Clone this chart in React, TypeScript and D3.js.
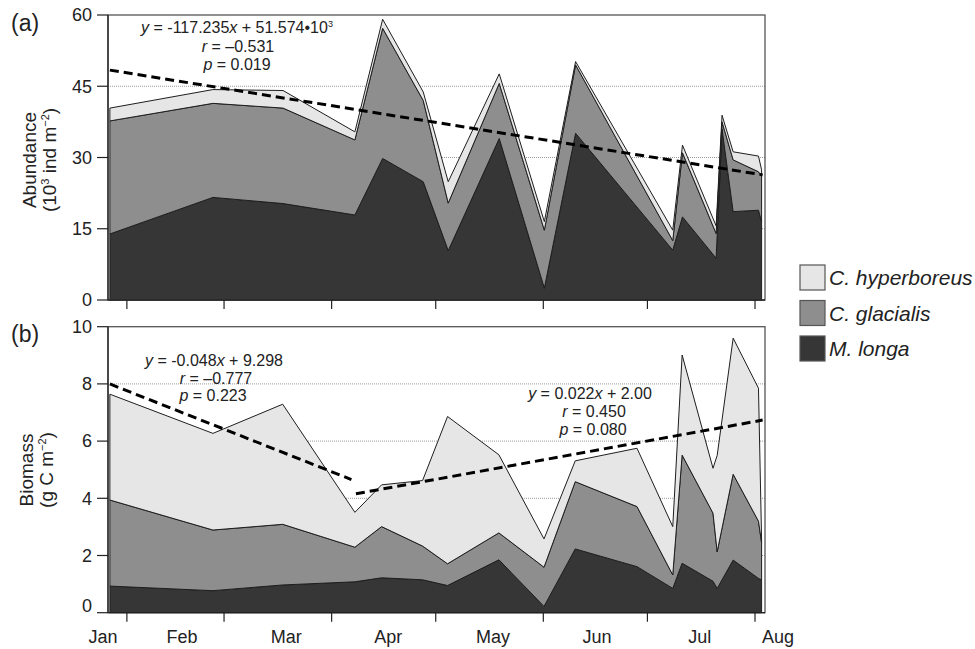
import * as d3 from "d3";

// day-of-year sampling dates and abundance (10^3 ind m-2) per species
const abDays = [27.1, 56.8, 77.0, 97.7, 105.7, 117.4, 124.6, 139.3, 152.3, 161.3, 189.3, 192.1, 201.8, 203.5, 206.7, 214.0, 214.9];
const abLonga = [13.9, 21.6, 20.3, 17.9, 29.8, 24.9, 10.4, 34.0, 2.5, 35.1, 10.5, 17.5, 8.8, 36.0, 18.6, 18.9, 16.5];
const abGlacialis = [23.8, 19.8, 20.1, 15.8, 27.4, 17.1, 10.0, 11.6, 12.2, 14.4, 2.0, 13.5, 5.2, 1.5, 10.9, 8.1, 9.5];
const abHyperboreus = [2.7, 2.9, 3.7, 1.7, 1.9, 1.8, 4.5, 2.0, 1.8, 0.7, 2.2, 1.6, 1.6, 1.4, 1.7, 3.3, 1.4];

// biomass (g C m-2)
const bmDays = [27.1, 56.8, 76.9, 97.7, 105.4, 117.2, 124.4, 139.2, 152.2, 161.2, 179.0, 189.3, 192.0, 200.9, 202.1, 206.7, 214.0, 214.9];
const bmLonga = [0.93, 0.77, 0.97, 1.08, 1.22, 1.15, 0.95, 1.85, 0.22, 2.23, 1.61, 0.85, 1.73, 1.10, 0.85, 1.84, 1.20, 1.15];
const bmGlacialis = [3.01, 2.12, 2.12, 1.21, 1.79, 1.18, 0.76, 0.94, 1.37, 2.35, 2.10, 0.47, 3.78, 2.38, 1.28, 3.00, 2.00, 1.30];
const bmHyperboreus = [3.70, 3.38, 4.20, 1.22, 1.46, 2.29, 5.15, 2.73, 0.99, 0.73, 2.04, 1.69, 3.50, 1.57, 3.37, 4.76, 4.65, 0.10];

// regression lines: [slope, intercept, fromDay, toDay]
const abFits = [[-0.117235, 51.574, 27.1, 215.2]];
const bmFits = [[-0.048, 9.298, 27.1, 96.7], [0.022, 2.0, 98.0, 215.2]];

const monthStarts = [32, 60, 91, 121, 152, 182, 213];
const monthNames = ["Jan", "Feb", "Mar", "Apr", "May", "Jun", "Jul", "Aug"];
const monthLabelDays = [25.1, 47.9, 77.9, 107.3, 137.5, 167.5, 197.1, 219.6];

const abTicks = [0, 15, 30, 45, 60];
const abGrid = [15, 30, 45];
const bmTicks = [0, 2, 4, 6, 8, 10];
const bmGrid = [2, 4, 6, 8];

const speciesKeys = ["longa", "glacialis", "hyperboreus"];
const speciesNames = ["C. hyperboreus", "C. glacialis", "M. longa"];
const fills: Record<string, string> = { longa: "#363636", glacialis: "#8e8e8e", hyperboreus: "#e6e6e6" };

const FONT = "'Liberation Sans', Arial, sans-serif";
const LEFT = 108;
const RIGHT = 765;

const x = d3.scaleLinear().domain([26.56, 215.88]).range([LEFT, RIGHT]);

function Panel({ days, longa, glacialis, hyperboreus, y, ticks, grid, fits, bottomTickShift }: any) {
  const rows = days.map((d: number, i: number) => ({ day: d, longa: longa[i], glacialis: glacialis[i], hyperboreus: hyperboreus[i] }));
  const series = d3.stack().keys(speciesKeys)(rows);
  const area = d3.area<any>().x((d) => x(d.data.day)).y0((d) => y(d[0])).y1((d) => y(d[1]));
  const [top, bottom] = [y.range()[1], y.range()[0]];
  return (
    <g>
      {grid.map((g: number) => (
        <line key={g} x1={LEFT} x2={RIGHT} y1={y(g)} y2={y(g)} stroke="#9a9a9a" strokeWidth={1} strokeDasharray="1,1" />
      ))}
      {series.map((s: any) => (
        <path key={s.key} d={area(s) || ""} fill={fills[s.key]} stroke="#1e1e1e" strokeWidth={1} strokeLinejoin="round" />
      ))}
      {fits.map((f: number[], i: number) => {
        const line = d3.line<number>().x((d) => x(d)).y((d) => y(f[0] * d + f[1]));
        return <path key={i} d={line([f[2], f[3]]) || ""} fill="none" stroke="#000" strokeWidth={3} strokeDasharray="9,5" />;
      })}
      <rect x={LEFT} y={top} width={RIGHT - LEFT} height={bottom - top} fill="none" stroke="#555" strokeWidth={1.3} />
      <line x1={LEFT} x2={LEFT} y1={top} y2={bottom} stroke="#222" strokeWidth={1.3} />
      <line x1={LEFT} x2={RIGHT} y1={bottom} y2={bottom} stroke="#222" strokeWidth={1.3} />
      {ticks.map((t: number, i: number) => (
        <g key={t}>
          <line x1={97} x2={LEFT} y1={y(t)} y2={y(t)} stroke="#222" strokeWidth={1.2} />
          <text x={92} y={y(t) - (i === 0 ? bottomTickShift : 0)} dy="0.35em" textAnchor="end" fontSize={18} fill="#222">
            {t}
          </text>
        </g>
      ))}
      {monthStarts.map((m) => (
        <line key={m} x1={x(m)} x2={x(m)} y1={bottom} y2={bottom + 9} stroke="#222" strokeWidth={1.2} />
      ))}
    </g>
  );
}

export default function App() {
  const yA = d3.scaleLinear().domain([0, 60]).range([300, 15]);
  const yB = d3.scaleLinear().domain([0, 10]).range([612.7, 326.7]);
  const sup = { fontSize: 11 };
  return (
    <svg width={975} height={649} style={{ position: "absolute", left: 0, top: 0, background: "#fff" }} fontFamily={FONT}>
      <Panel days={abDays} longa={abLonga} glacialis={abGlacialis} hyperboreus={abHyperboreus}
        y={yA} ticks={abTicks} grid={abGrid} fits={abFits} bottomTickShift={0} />
      <Panel days={bmDays} longa={bmLonga} glacialis={bmGlacialis} hyperboreus={bmHyperboreus}
        y={yB} ticks={bmTicks} grid={bmGrid} fits={bmFits} bottomTickShift={7} />

      {monthNames.map((m, i) => (
        <text key={m} x={x(monthLabelDays[i])} y={643} textAnchor="middle" fontSize={18} fill="#222">{m}</text>
      ))}

      <text x={11} y={31} fontSize={23} fill="#222">(a)</text>
      <text x={11} y={342} fontSize={23} fill="#222">(b)</text>

      <text transform="translate(36,160) rotate(-90)" textAnchor="middle" fontSize={19} fill="#222">Abundance</text>
      <text transform="translate(56,160) rotate(-90)" textAnchor="middle" fontSize={19} fill="#222">
        {"(10"}<tspan dy={-7} style={sup}>3</tspan><tspan dy={7}>{" ind m"}</tspan><tspan dy={-7} style={sup}>{"−2"}</tspan><tspan dy={7}>{")"}</tspan>
      </text>
      <text transform="translate(33,470) rotate(-90)" textAnchor="middle" fontSize={19} fill="#222">Biomass</text>
      <text transform="translate(53,470) rotate(-90)" textAnchor="middle" fontSize={19} fill="#222">
        {"(g C m"}<tspan dy={-7} style={sup}>{"−2"}</tspan><tspan dy={7}>{")"}</tspan>
      </text>

      <g fontSize={16} fill="#222" textAnchor="middle">
        <text x={237} y={33}>
          <tspan fontStyle="italic">y</tspan>{" = -117.235"}<tspan fontStyle="italic">x</tspan>{" + 51.574•10"}<tspan dy={-6} fontSize={9}>3</tspan>
        </text>
        <text x={238} y={52}><tspan fontStyle="italic">r</tspan>{" = –0.531"}</text>
        <text x={237} y={70}><tspan fontStyle="italic">p</tspan>{" = 0.019"}</text>

        <text x={214} y={366}>
          <tspan fontStyle="italic">y</tspan>{" = -0.048"}<tspan fontStyle="italic">x</tspan>{" + 9.298"}
        </text>
        <text x={216} y={384}><tspan fontStyle="italic">r</tspan>{" = –0.777"}</text>
        <text x={213} y={401}><tspan fontStyle="italic">p</tspan>{" = 0.223"}</text>

        <text x={590} y={399}>
          <tspan fontStyle="italic">y</tspan>{" = 0.022"}<tspan fontStyle="italic">x</tspan>{" + 2.00"}
        </text>
        <text x={594} y={417}><tspan fontStyle="italic">r</tspan>{" = 0.450"}</text>
        <text x={593} y={435}><tspan fontStyle="italic">p</tspan>{" = 0.080"}</text>
      </g>

      {speciesNames.map((n, i) => {
        const key = speciesKeys[2 - i];
        return (
          <g key={n} transform={`translate(800,${265 + i * 35.5})`}>
            <rect width={25} height={25} fill={fills[key]} stroke="#555" strokeWidth={1.2} />
            <text x={29} y={20} fontSize={21} fontStyle="italic" fill="#222">{n}</text>
          </g>
        );
      })}
    </svg>
  );
}
